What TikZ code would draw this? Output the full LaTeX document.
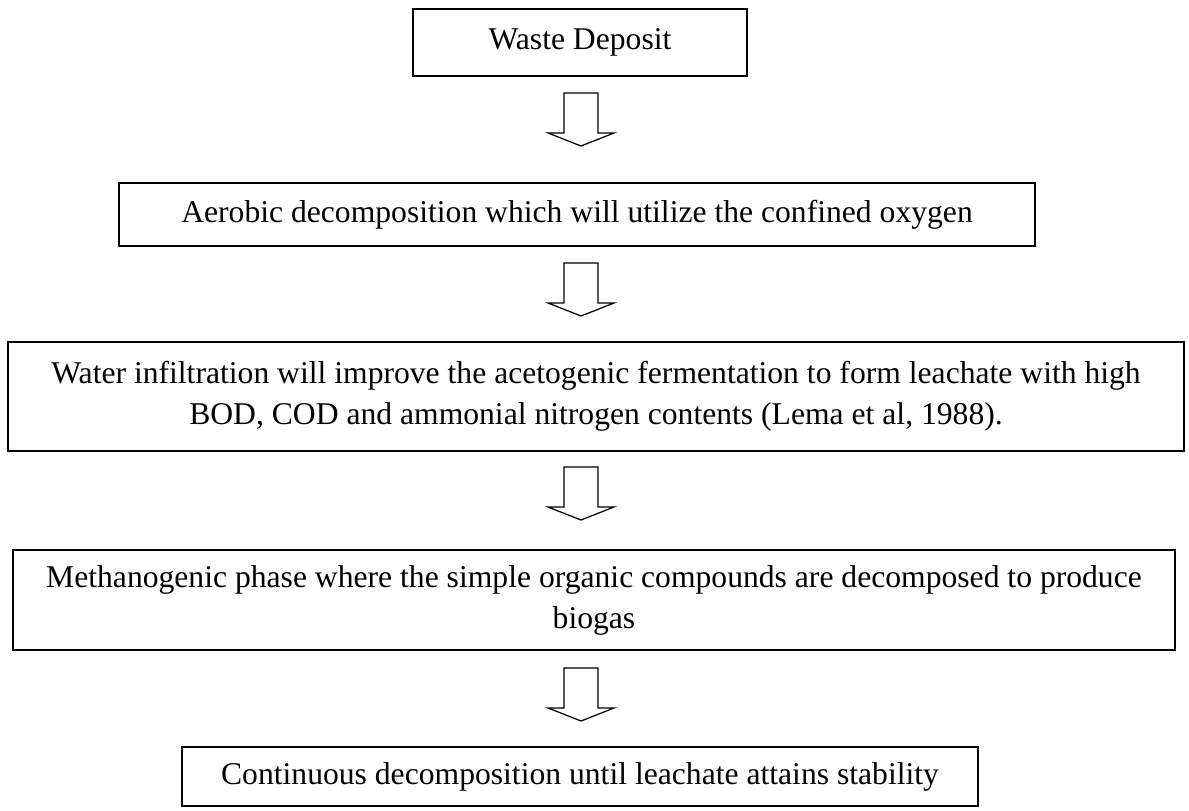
\documentclass[tikz,border=0pt]{standalone}
\usepackage{fontspec}
\setmainfont{Liberation Serif}
\tikzset{
  stagebox/.style={draw, line width=0.035cm, rectangle, align=center, inner sep=0pt},
  flowarrow/.pic={\draw[line width=0.025cm] (-0.34,0) -- (-0.34,-0.80) -- (-0.66,-0.80) -- (0,-1.06) -- (0.66,-0.80) -- (0.34,-0.80) -- (0.34,0) -- cycle;}
}
\begin{document}
\begin{tikzpicture}
                    \useasboundingbox (0,0) rectangle (23.780000,-16.220000);
                    {\fontsize{18}{23.3}\selectfont

                    % Drawing box waste
                    \node[stagebox, minimum width=6.68cm, minimum height=1.34cm] (waste) at (11.600000,-0.850000) {Waste Deposit};%

                    % Drawing box aerobic
                    \node[stagebox, minimum width=18.32cm, minimum height=1.26cm] (aerobic) at (11.540000,-4.290000) {Aerobic decomposition which will utilize the confined oxygen};%

                    % Drawing box infiltration
                    \node[stagebox, minimum width=23.52cm, minimum height=2.18cm] (infiltration) at (11.920000,-7.930000) {Water infiltration will improve the acetogenic fermentation to form leachate with high\\ BOD, COD and ammonial nitrogen contents (Lema et al, 1988).};%

                    % Drawing box methanogenic
                    \node[stagebox, minimum width=23.24cm, minimum height=2.00cm] (methanogenic) at (11.880000,-12.000000) {Methanogenic phase where the simple organic compounds are decomposed to produce\\ biogas};%

                    % Drawing box stability
                    \node[stagebox, minimum width=15.92cm, minimum height=1.18cm] (stability) at (11.600000,-15.530000) {Continuous decomposition until leachate attains stability};%

                    % Marking arrow points
                    \coordinate (arrA) at (11.620000,-1.860000);%
                    \coordinate (arrB) at (11.620000,-5.260000);%
                    \coordinate (arrC) at (11.620000,-9.340000);%
                    \coordinate (arrD) at (11.620000,-13.360000);%

                    % Drawing arrows
                    \pic at (arrA) {flowarrow};%
                    \pic at (arrB) {flowarrow};%
                    \pic at (arrC) {flowarrow};%
                    \pic at (arrD) {flowarrow};%
                    }
\end{tikzpicture}
\end{document}
